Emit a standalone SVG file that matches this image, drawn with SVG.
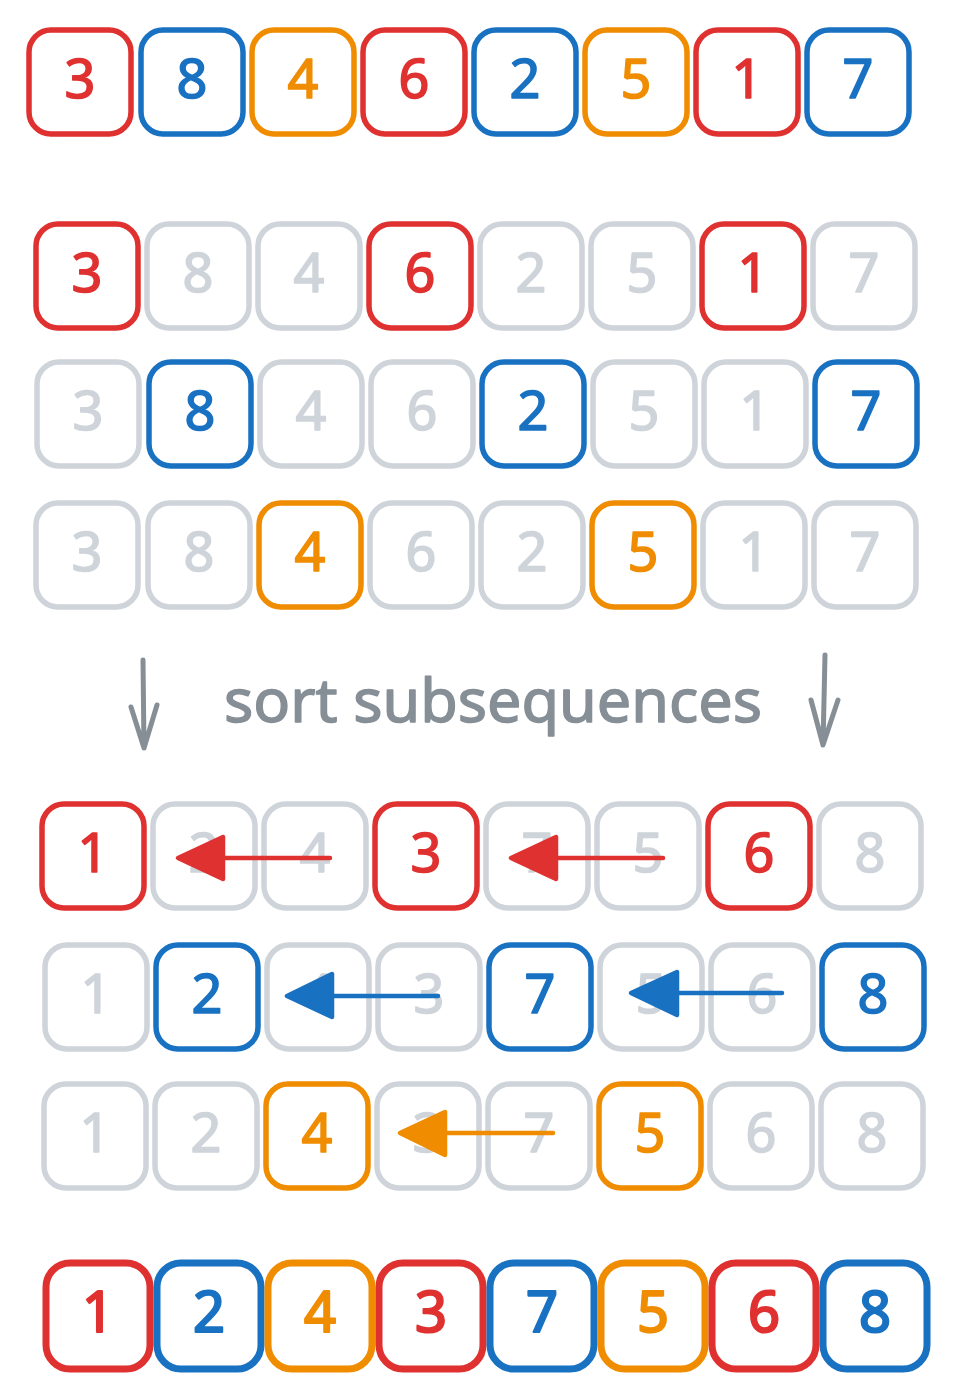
<svg xmlns="http://www.w3.org/2000/svg" width="957" height="1398" viewBox="0 0 957 1398">
<style>
.r{color:#e03131}.b{color:#1971c2}.o{color:#f08c00}.g{color:#ced4da}
text{font-family:"Noto Sans","Liberation Sans",sans-serif;font-size:54px;text-anchor:middle;fill:currentColor;stroke:currentColor;stroke-width:1.6;stroke-linejoin:round}
.last text{font-size:56px;stroke-width:2.2}
.lab{fill:#868e96;stroke:#868e96;stroke-width:1.4;font-size:60px;text-anchor:start}
</style>
<defs>
<rect id="bx" x="-51" y="-52" width="102" height="104" rx="22" fill="none" stroke="currentColor" stroke-width="5.5"/>
<rect id="bx8" x="-52" y="-53" width="104" height="106" rx="24" fill="none" stroke="currentColor" stroke-width="7"/>
</defs>
<g id="row1">
<g id="n1_0" class="r" transform="translate(80,82)"><use href="#bx"/><text y="16">3</text></g>
<g id="n1_1" class="b" transform="translate(192,82)"><use href="#bx"/><text y="16">8</text></g>
<g id="n1_2" class="o" transform="translate(303,82)"><use href="#bx"/><text y="16">4</text></g>
<g id="n1_3" class="r" transform="translate(414,82)"><use href="#bx"/><text y="16">6</text></g>
<g id="n1_4" class="b" transform="translate(525,82)"><use href="#bx"/><text y="16">2</text></g>
<g id="n1_5" class="o" transform="translate(636,82)"><use href="#bx"/><text y="16">5</text></g>
<g id="n1_6" class="r" transform="translate(747,82)"><use href="#bx"/><text y="16">1</text></g>
<g id="n1_7" class="b" transform="translate(858,82)"><use href="#bx"/><text y="16">7</text></g>
</g>
<g id="row2">
<g id="n2_0" class="r" transform="translate(87,276)"><use href="#bx"/><text y="16">3</text></g>
<g id="n2_1" class="g" transform="translate(198,276)"><use href="#bx"/><text y="16">8</text></g>
<g id="n2_2" class="g" transform="translate(309,276)"><use href="#bx"/><text y="16">4</text></g>
<g id="n2_3" class="r" transform="translate(420,276)"><use href="#bx"/><text y="16">6</text></g>
<g id="n2_4" class="g" transform="translate(531,276)"><use href="#bx"/><text y="16">2</text></g>
<g id="n2_5" class="g" transform="translate(642,276)"><use href="#bx"/><text y="16">5</text></g>
<g id="n2_6" class="r" transform="translate(753,276)"><use href="#bx"/><text y="16">1</text></g>
<g id="n2_7" class="g" transform="translate(864,276)"><use href="#bx"/><text y="16">7</text></g>
</g>
<g id="row3">
<g id="n3_0" class="g" transform="translate(88,414)"><use href="#bx"/><text y="16">3</text></g>
<g id="n3_1" class="b" transform="translate(200,414)"><use href="#bx"/><text y="16">8</text></g>
<g id="n3_2" class="g" transform="translate(311,414)"><use href="#bx"/><text y="16">4</text></g>
<g id="n3_3" class="g" transform="translate(422,414)"><use href="#bx"/><text y="16">6</text></g>
<g id="n3_4" class="b" transform="translate(533,414)"><use href="#bx"/><text y="16">2</text></g>
<g id="n3_5" class="g" transform="translate(644,414)"><use href="#bx"/><text y="16">5</text></g>
<g id="n3_6" class="g" transform="translate(755,414)"><use href="#bx"/><text y="16">1</text></g>
<g id="n3_7" class="b" transform="translate(866,414)"><use href="#bx"/><text y="16">7</text></g>
</g>
<g id="row4">
<g id="n4_0" class="g" transform="translate(87,555)"><use href="#bx"/><text y="16">3</text></g>
<g id="n4_1" class="g" transform="translate(199,555)"><use href="#bx"/><text y="16">8</text></g>
<g id="n4_2" class="o" transform="translate(310,555)"><use href="#bx"/><text y="16">4</text></g>
<g id="n4_3" class="g" transform="translate(421,555)"><use href="#bx"/><text y="16">6</text></g>
<g id="n4_4" class="g" transform="translate(532,555)"><use href="#bx"/><text y="16">2</text></g>
<g id="n4_5" class="o" transform="translate(643,555)"><use href="#bx"/><text y="16">5</text></g>
<g id="n4_6" class="g" transform="translate(754,555)"><use href="#bx"/><text y="16">1</text></g>
<g id="n4_7" class="g" transform="translate(865,555)"><use href="#bx"/><text y="16">7</text></g>
</g>
<g id="label"><text class="lab" x="224" y="722" textLength="538" lengthAdjust="spacingAndGlyphs">sort subsequences</text></g>
<g id="row5">
<g id="n5_0" class="r" transform="translate(93,856)"><use href="#bx"/><text y="16">1</text></g>
<g id="n5_1" class="g" transform="translate(204,856)"><use href="#bx"/><text y="16">2</text></g>
<g id="n5_2" class="g" transform="translate(315,856)"><use href="#bx"/><text y="16">4</text></g>
<g id="n5_3" class="r" transform="translate(426,856)"><use href="#bx"/><text y="16">3</text></g>
<g id="n5_4" class="g" transform="translate(537,856)"><use href="#bx"/><text y="16">7</text></g>
<g id="n5_5" class="g" transform="translate(648,856)"><use href="#bx"/><text y="16">5</text></g>
<g id="n5_6" class="r" transform="translate(759,856)"><use href="#bx"/><text y="16">6</text></g>
<g id="n5_7" class="g" transform="translate(870,856)"><use href="#bx"/><text y="16">8</text></g>
</g>
<g id="row6">
<g id="n6_0" class="g" transform="translate(96,997)"><use href="#bx"/><text y="16">1</text></g>
<g id="n6_1" class="b" transform="translate(207,997)"><use href="#bx"/><text y="16">2</text></g>
<g id="n6_2" class="g" transform="translate(318,997)"><use href="#bx"/><text y="16">4</text></g>
<g id="n6_3" class="g" transform="translate(429,997)"><use href="#bx"/><text y="16">3</text></g>
<g id="n6_4" class="b" transform="translate(540,997)"><use href="#bx"/><text y="16">7</text></g>
<g id="n6_5" class="g" transform="translate(651,997)"><use href="#bx"/><text y="16">5</text></g>
<g id="n6_6" class="g" transform="translate(762,997)"><use href="#bx"/><text y="16">6</text></g>
<g id="n6_7" class="b" transform="translate(873,997)"><use href="#bx"/><text y="16">8</text></g>
</g>
<g id="row7">
<g id="n7_0" class="g" transform="translate(95,1136)"><use href="#bx"/><text y="16">1</text></g>
<g id="n7_1" class="g" transform="translate(206,1136)"><use href="#bx"/><text y="16">2</text></g>
<g id="n7_2" class="o" transform="translate(317,1136)"><use href="#bx"/><text y="16">4</text></g>
<g id="n7_3" class="g" transform="translate(428,1136)"><use href="#bx"/><text y="16">3</text></g>
<g id="n7_4" class="g" transform="translate(539,1136)"><use href="#bx"/><text y="16">7</text></g>
<g id="n7_5" class="o" transform="translate(650,1136)"><use href="#bx"/><text y="16">5</text></g>
<g id="n7_6" class="g" transform="translate(761,1136)"><use href="#bx"/><text y="16">6</text></g>
<g id="n7_7" class="g" transform="translate(872,1136)"><use href="#bx"/><text y="16">8</text></g>
</g>
<g id="row8">
<g id="n8_0" class="r last" transform="translate(98,1316)"><use href="#bx8"/><text y="16">1</text></g>
<g id="n8_1" class="b last" transform="translate(209,1316)"><use href="#bx8"/><text y="16">2</text></g>
<g id="n8_2" class="o last" transform="translate(320,1316)"><use href="#bx8"/><text y="16">4</text></g>
<g id="n8_3" class="r last" transform="translate(431,1316)"><use href="#bx8"/><text y="16">3</text></g>
<g id="n8_4" class="b last" transform="translate(542,1316)"><use href="#bx8"/><text y="16">7</text></g>
<g id="n8_5" class="o last" transform="translate(653,1316)"><use href="#bx8"/><text y="16">5</text></g>
<g id="n8_6" class="r last" transform="translate(764,1316)"><use href="#bx8"/><text y="16">6</text></g>
<g id="n8_7" class="b last" transform="translate(875,1316)"><use href="#bx8"/><text y="16">8</text></g>
</g>
<g id="connectors">
<g stroke="#868e96" fill="none" stroke-width="5" stroke-linecap="round" stroke-linejoin="round">
<path d="M143 660 L144 748 M131 707 L144 748 L157 705"/>
<path d="M825 655 L823 745 M811 700 L823 745 L838 700"/>
</g>
<g fill="#e03131" stroke="#e03131" stroke-linejoin="round" stroke-linecap="round" stroke-width="4.5">
<line x1="330" y1="858" x2="200" y2="858"/>
<polygon points="178,858 223,837 223,879"/>
<line x1="663" y1="858" x2="530" y2="858"/>
<polygon points="511,858 556,837 556,879"/>
</g>
<g fill="#1971c2" stroke="#1971c2" stroke-linejoin="round" stroke-linecap="round" stroke-width="4.5">
<line x1="438" y1="996" x2="310" y2="996"/>
<polygon points="287,996 332,974 332,1017"/>
<line x1="782" y1="993" x2="650" y2="993"/>
<polygon points="631,993 677,972 677,1015"/>
</g>
<g fill="#f08c00" stroke="#f08c00" stroke-linejoin="round" stroke-linecap="round" stroke-width="4.5">
<line x1="553" y1="1133" x2="420" y2="1133"/>
<polygon points="400,1133 445,1112 445,1155"/>
</g>
</g>
</svg>
